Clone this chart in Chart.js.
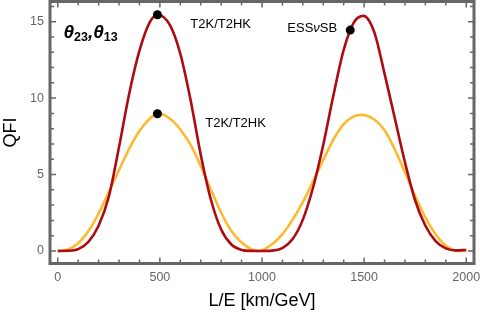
<!DOCTYPE html>
<html>
<head>
<meta charset="utf-8">
<script src="https://cdn.jsdelivr.net/npm/chart.js@4.4.1/dist/chart.umd.min.js"></script>
<style>
  html, body { margin: 0; padding: 0; background: #fff; }
  canvas { display: block; }
</style>
</head>
<body>
<canvas id="qfiChart" width="480" height="313" style="width:480px;height:313px"></canvas>
<script>
// values
const darkLE  = [0, 50, 100, 150, 200, 250, 300, 350, 400, 450, 490, 550, 600, 650, 700, 750, 800, 850, 900, 950, 990,
                 1050, 1100, 1150, 1200, 1250, 1300, 1350, 1400, 1450, 1497, 1550, 1600, 1650, 1700, 1750, 1800, 1850, 1900, 1950, 2000];
const darkQFI = [0, 0.01, 0.12, 0.6, 1.65, 3.55, 6.8, 10.3, 13.1, 14.95, 15.45, 14.75, 12.9, 9.9, 6.3, 3.35, 1.4, 0.42, 0.07, 0.005, 0,
                 0.02, 0.19, 0.78, 2.05, 4.15, 6.95, 10.2, 13.15, 14.95, 15.38, 14.3, 11.6, 8.7, 5.8, 3.3, 1.65, 0.65, 0.17, 0.04, 0.06];

const lightLE  = [0, 50, 100, 150, 200, 250, 300, 350, 400, 450, 490, 550, 600, 650, 700, 750, 800, 850, 900, 950, 985,
                  1050, 1100, 1150, 1200, 1250, 1300, 1350, 1400, 1450, 1486, 1550, 1600, 1650, 1700, 1750, 1800, 1850, 1900, 1955, 2000];
const lightQFI = [0, 0.1, 0.5, 1.3, 2.45, 3.85, 5.3, 6.7, 7.85, 8.65, 9.0, 8.65, 7.95, 6.95, 5.55, 4.0, 2.5, 1.3, 0.55, 0.1, 0,
                  0.45, 1.1, 2.05, 3.2, 4.55, 5.95, 7.3, 8.3, 8.8, 8.9, 8.6, 7.9, 6.65, 5.15, 3.6, 2.2, 1.1, 0.35, 0, 0.04];

// experiment markers
const markLE  = [488, 488, 1432];
const markQFI = [15.45, 8.98, 14.45];

// ticks
const xMajor = [0, 500, 1000, 1500, 2000];
const xMinor = [100, 200, 300, 400, 600, 700, 800, 900, 1100, 1200, 1300, 1400, 1600, 1700, 1800, 1900];
const yMajor = [0, 5, 10, 15];
const yMinor = [1, 2, 3, 4, 6, 7, 8, 9, 11, 12, 13, 14, 16];

const FONT = '"Liberation Sans", Arial, sans-serif';
const GRAY = "#666666";

function pts(xs, ys) {
    return xs.map((v, i) => ({ x: v, y: ys[i] }));
}

// frame, inside ticks and the text labels, Mathematica-style
const framePlugin = {
    id: "frame",
    afterDatasetsDraw(chart) {
        const { ctx, chartArea: a, scales: { x, y } } = chart;
        ctx.save();
        ctx.strokeStyle = GRAY;

        ctx.lineWidth = 1.5;
        const tickX = (vals, len) => vals.forEach(v => {
            const px = x.getPixelForValue(v);
            ctx.beginPath();
            ctx.moveTo(px, a.bottom); ctx.lineTo(px, a.bottom - len);
            ctx.moveTo(px, a.top); ctx.lineTo(px, a.top + len);
            ctx.stroke();
        });
        const tickY = (vals, len) => vals.forEach(v => {
            const py = y.getPixelForValue(v);
            ctx.beginPath();
            ctx.moveTo(a.left, py); ctx.lineTo(a.left + len, py);
            ctx.moveTo(a.right, py); ctx.lineTo(a.right - len, py);
            ctx.stroke();
        });
        tickX(xMajor, 6); tickX(xMinor, 4);
        tickY(yMajor, 6); tickY(yMinor, 4);

        ctx.lineWidth = 3;
        ctx.strokeRect(a.left, a.top, a.right - a.left, a.bottom - a.top);

        // labels
        ctx.fillStyle = "#000";
        ctx.textBaseline = "middle";
        ctx.textAlign = "left";
        ctx.font = "13px " + FONT;
        ctx.fillText("T2K/T2HK", x.getPixelForValue(649), y.getPixelForValue(14.85));
        ctx.fillText("T2K/T2HK", x.getPixelForValue(722), y.getPixelForValue(8.37));

        let ex = x.getPixelForValue(1124), ey = y.getPixelForValue(14.58);
        ctx.fillText("ESS", ex, ey); ex += ctx.measureText("ESS").width;
        ctx.font = "italic 13px " + FONT;
        ctx.fillText("\u03bd", ex, ey); ex += ctx.measureText("\u03bd").width;
        ctx.font = "13px " + FONT;
        ctx.fillText("SB", ex, ey);

        // title theta_23, theta_13
        ctx.textBaseline = "alphabetic";
        let tx = x.getPixelForValue(28), ty = y.getPixelForValue(14.3) + 6;
        const big = "italic bold 19px " + FONT, sub = "bold 12.5px " + FONT;
        ctx.font = big; ctx.fillText("\u03b8", tx, ty); tx += ctx.measureText("\u03b8").width;
        ctx.font = sub; ctx.fillText("23", tx, ty + 3); tx += ctx.measureText("23").width;
        ctx.font = big; ctx.fillText(",", tx, ty); tx += ctx.measureText(",").width;
        ctx.fillText("\u03b8", tx, ty); tx += ctx.measureText("\u03b8").width;
        ctx.font = sub; ctx.fillText("13", tx, ty + 3);

        ctx.restore();
    }
};

new Chart(document.getElementById("qfiChart"), {
    type: "line",
    data: {
        datasets: [
            {
                data: pts(markLE, markQFI),
                showLine: false,
                pointRadius: 4.5,
                pointBackgroundColor: "#000",
                pointBorderWidth: 0,
                order: 0
            },
            {
                data: pts(darkLE, darkQFI),
                borderColor: "#AE0A12",
                borderWidth: 2.6,
                pointRadius: 0,
                cubicInterpolationMode: "monotone",
                order: 1
            },
            {
                data: pts(lightLE, lightQFI),
                borderColor: "#FDB92F",
                borderWidth: 2.6,
                pointRadius: 0,
                cubicInterpolationMode: "monotone",
                order: 2
            }
        ]
    },
    options: {
        responsive: false,
        animation: false,
        layout: { autoPadding: false, padding: { top: 1.5, right: 6, left: 0, bottom: 0 } },
        plugins: {
            legend: { display: false },
            tooltip: { enabled: false }
        },
        scales: {
            x: {
                type: "linear",
                min: -38,
                max: 2038,
                afterBuildTicks: s => { s.ticks = xMajor.map(v => ({ value: v })); },
                afterFit: s => { s.height = 49.5; s.paddingLeft = 0; s.paddingRight = 0; },
                grid: { display: false, drawTicks: false },
                border: { display: false },
                ticks: { color: GRAY, font: { family: FONT, size: 12.5 }, padding: 7, maxRotation: 0, autoSkip: false,
                         callback: v => String(v) },
                title: { display: true, text: "L/E [km/GeV]", color: "#000", font: { family: FONT, size: 18 }, padding: { top: 0, bottom: 1 } }
            },
            y: {
                min: -0.82,
                max: 16.32,
                afterBuildTicks: s => { s.ticks = yMajor.map(v => ({ value: v })); },
                afterFit: s => { s.width = 50; s.paddingTop = 0; s.paddingBottom = 0; },
                grid: { display: false, drawTicks: false },
                border: { display: false },
                ticks: { color: GRAY, font: { family: FONT, size: 12.5 }, padding: 6, callback: v => String(v) },
                title: { display: true, text: "QFI", color: "#000", font: { family: FONT, size: 18 }, padding: 0 }
            }
        }
    },
    plugins: [framePlugin]
});
</script>
</body>
</html>
